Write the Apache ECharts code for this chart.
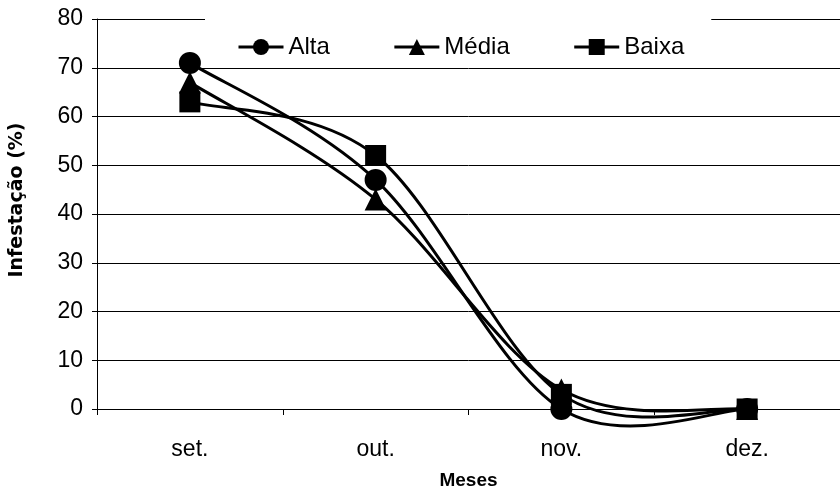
<!DOCTYPE html>
<html>
<head>
<meta charset="utf-8">
<script src="https://cdn.jsdelivr.net/npm/echarts@6/dist/echarts.min.js"></script>
<style>
  html, body { margin: 0; padding: 0; background: #fff; }
  #chart { width: 840px; height: 495px; }
</style>
</head>
<body>
<div id="chart"></div>
<script>
// Infestação mensal por nível de infestação inicial
const months = ['set.', 'out.', 'nov.', 'dez.'];
const alta = [71, 47, 0, 0];
const media = [67, 43, 4, 0];
const baixa = [63, 52, 3, 0];
const yTicks = { min: 0, max: 80, step: 10 };

const FONT = '"Liberation Sans", Arial, sans-serif';

// Smoothed path through the points (cubic Bézier, tension 1/6,
// control arms limited to half the segment length).
function smoothPath(pts) {
  const dist = (a, b) => Math.hypot(a[0] - b[0], a[1] - b[1]);
  let d = 'M' + pts[0][0] + ',' + pts[0][1];
  for (let i = 0; i < pts.length - 1; i++) {
    const p0 = pts[i - 1] || pts[i];
    const p1 = pts[i];
    const p2 = pts[i + 1];
    const p3 = pts[i + 2] || pts[i + 1];
    const d02 = dist(p0, p2), d12 = dist(p1, p2), d13 = dist(p1, p3);
    let f0 = 1 / 6, f1 = 1 / 6;
    if (d02 / 6 >= d12 / 2 && d02 > 0) f0 = d12 / 2 / d02;
    if (d13 / 6 >= d12 / 2 && d13 > 0) f1 = d12 / 2 / d13;
    const c1 = [p1[0] + (p2[0] - p0[0]) * f0, p1[1] + (p2[1] - p0[1]) * f0];
    const c2 = [p2[0] - (p3[0] - p1[0]) * f1, p2[1] - (p3[1] - p1[1]) * f1];
    d += ' C' + c1[0] + ',' + c1[1] + ' ' + c2[0] + ',' + c2[1] + ' ' + p2[0] + ',' + p2[1];
  }
  return d;
}

function curveSeries(values) {
  return {
    type: 'custom',
    z: 2,
    clip: false,
    silent: true,
    data: values.map((v, i) => [i, v]),
    encode: { x: 0, y: 1 },
    renderItem: function (params, api) {
      if (params.dataIndex !== 0) return null;
      const pts = values.map((v, i) => api.coord([i, v]));
      return {
        type: 'path',
        shape: { pathData: smoothPath(pts) },
        style: { stroke: '#000', lineWidth: 3, fill: 'none', lineJoin: 'round' }
      };
    }
  };
}

function markerSeries(name, data, symbol, size) {
  return {
    name: name,
    type: 'line',
    z: 3,
    data: data,
    clip: false,
    symbol: symbol,
    symbolSize: size,
    showAllSymbol: true,
    lineStyle: { color: '#000', width: 3, opacity: 0 },
    itemStyle: { color: '#000', borderWidth: 0 },
    emphasis: { disabled: true }
  };
}

const chart = echarts.init(document.getElementById('chart'), null, { renderer: 'canvas' });
chart.setOption({
  animation: false,
  backgroundColor: '#fff',
  textStyle: { fontFamily: FONT },
  grid: { left: 97, top: 19, width: 752, height: 390 },
  legend: {
    left: 205,
    top: 14,
    padding: [21, 27, 8, 32],
    backgroundColor: '#fff',
    itemWidth: 45,
    itemHeight: 20,
    itemGap: 63,
    lineStyle: { color: '#000', width: 3, opacity: 1 },
    textStyle: { fontFamily: FONT, fontSize: 24, color: '#000' },
    data: ['Alta', 'Média', 'Baixa']
  },
  xAxis: {
    type: 'category',
    data: months,
    boundaryGap: true,
    name: 'Meses',
    nameLocation: 'middle',
    nameGap: 62,
    nameTextStyle: { fontFamily: FONT, fontSize: 19, fontWeight: 'bold', color: '#000' },
    axisLine: { lineStyle: { color: '#000', width: 1 } },
    axisTick: { show: true, length: 6, lineStyle: { color: '#000' } },
    axisLabel: { margin: 29, fontFamily: FONT, fontSize: 23, color: '#000' },
    splitLine: { show: false }
  },
  yAxis: {
    type: 'value',
    min: yTicks.min,
    max: yTicks.max,
    interval: yTicks.step,
    name: 'Infestação (%)',
    nameLocation: 'middle',
    nameGap: 70,
    nameRotate: 90,
    nameTextStyle: { fontFamily: '"DejaVu Sans", sans-serif', fontSize: 19, fontWeight: 'bold', color: '#000', padding: [0, 0, 0, 28] },
    axisLine: { show: true, lineStyle: { color: '#000', width: 1 } },
    axisTick: { show: true, length: 5, lineStyle: { color: '#000' } },
    axisLabel: { margin: 14, fontFamily: FONT, fontSize: 23, color: '#000' },
    splitLine: { show: true, lineStyle: { color: '#000', width: 1 } }
  },
  series: [
    curveSeries(alta),
    curveSeries(media),
    curveSeries(baixa),
    markerSeries('Alta', alta, 'circle', 22),
    markerSeries('Média', media, 'triangle', 22),
    markerSeries('Baixa', baixa, 'rect', 21)
  ]
});
</script>
</body>
</html>
